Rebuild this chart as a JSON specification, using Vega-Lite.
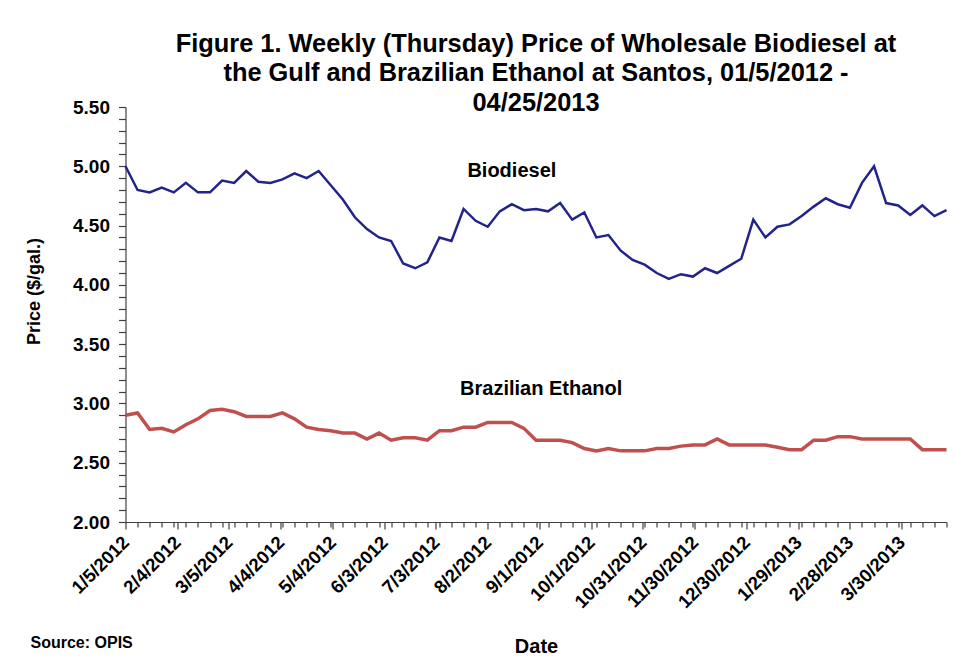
{
  "$schema": "https://vega.github.io/schema/vega-lite/v6.json",
  "padding": {"left": 24.5, "top": 31, "right": 5, "bottom": 2},
  "background": "white",
  "title": {"text": "Source: OPIS", "orient": "bottom", "anchor": "start", "frame": "bounds", "fontSize": 16, "font": "Liberation Sans", "fontWeight": "bold", "color": "#000000", "offset": -21, "dx": 5.5},
  "vconcat": [
    {
      "width": 821,
      "height": 415,
      "title": {
        "text": ["Figure 1. Weekly (Thursday) Price of Wholesale Biodiesel at", "the Gulf and Brazilian Ethanol at Santos, 01/5/2012 -", "04/25/2013"],
        "fontSize": 25.4, "lineHeight": 29.5, "font": "Liberation Sans", "fontWeight": "bold", "color": "#000000", "anchor": "middle", "offset": -18
      },
      "data": {"values": [
        {"date": "2012-01-05", "biodiesel": 5.00, "ethanol": 2.90},
        {"date": "2012-01-12", "biodiesel": 4.80, "ethanol": 2.92},
        {"date": "2012-01-19", "biodiesel": 4.78, "ethanol": 2.78},
        {"date": "2012-01-26", "biodiesel": 4.82, "ethanol": 2.79},
        {"date": "2012-02-02", "biodiesel": 4.78, "ethanol": 2.76},
        {"date": "2012-02-09", "biodiesel": 4.86, "ethanol": 2.82},
        {"date": "2012-02-16", "biodiesel": 4.78, "ethanol": 2.87},
        {"date": "2012-02-23", "biodiesel": 4.78, "ethanol": 2.94},
        {"date": "2012-03-01", "biodiesel": 4.88, "ethanol": 2.95},
        {"date": "2012-03-08", "biodiesel": 4.86, "ethanol": 2.93},
        {"date": "2012-03-15", "biodiesel": 4.96, "ethanol": 2.89},
        {"date": "2012-03-22", "biodiesel": 4.87, "ethanol": 2.89},
        {"date": "2012-03-29", "biodiesel": 4.86, "ethanol": 2.89},
        {"date": "2012-04-05", "biodiesel": 4.89, "ethanol": 2.92},
        {"date": "2012-04-12", "biodiesel": 4.94, "ethanol": 2.87},
        {"date": "2012-04-19", "biodiesel": 4.90, "ethanol": 2.80},
        {"date": "2012-04-26", "biodiesel": 4.96, "ethanol": 2.78},
        {"date": "2012-05-03", "biodiesel": 4.84, "ethanol": 2.77},
        {"date": "2012-05-10", "biodiesel": 4.72, "ethanol": 2.75},
        {"date": "2012-05-17", "biodiesel": 4.57, "ethanol": 2.75},
        {"date": "2012-05-24", "biodiesel": 4.47, "ethanol": 2.70},
        {"date": "2012-05-31", "biodiesel": 4.40, "ethanol": 2.75},
        {"date": "2012-06-07", "biodiesel": 4.37, "ethanol": 2.69},
        {"date": "2012-06-14", "biodiesel": 4.18, "ethanol": 2.71},
        {"date": "2012-06-21", "biodiesel": 4.14, "ethanol": 2.71},
        {"date": "2012-06-28", "biodiesel": 4.19, "ethanol": 2.69},
        {"date": "2012-07-05", "biodiesel": 4.40, "ethanol": 2.77},
        {"date": "2012-07-12", "biodiesel": 4.37, "ethanol": 2.77},
        {"date": "2012-07-19", "biodiesel": 4.64, "ethanol": 2.80},
        {"date": "2012-07-26", "biodiesel": 4.54, "ethanol": 2.80},
        {"date": "2012-08-02", "biodiesel": 4.49, "ethanol": 2.84},
        {"date": "2012-08-09", "biodiesel": 4.62, "ethanol": 2.84},
        {"date": "2012-08-16", "biodiesel": 4.68, "ethanol": 2.84},
        {"date": "2012-08-23", "biodiesel": 4.63, "ethanol": 2.79},
        {"date": "2012-08-30", "biodiesel": 4.64, "ethanol": 2.69},
        {"date": "2012-09-06", "biodiesel": 4.62, "ethanol": 2.69},
        {"date": "2012-09-13", "biodiesel": 4.69, "ethanol": 2.69},
        {"date": "2012-09-20", "biodiesel": 4.55, "ethanol": 2.67},
        {"date": "2012-09-27", "biodiesel": 4.61, "ethanol": 2.62},
        {"date": "2012-10-04", "biodiesel": 4.40, "ethanol": 2.60},
        {"date": "2012-10-11", "biodiesel": 4.42, "ethanol": 2.62},
        {"date": "2012-10-18", "biodiesel": 4.29, "ethanol": 2.60},
        {"date": "2012-10-25", "biodiesel": 4.21, "ethanol": 2.60},
        {"date": "2012-11-01", "biodiesel": 4.17, "ethanol": 2.60},
        {"date": "2012-11-08", "biodiesel": 4.10, "ethanol": 2.62},
        {"date": "2012-11-15", "biodiesel": 4.05, "ethanol": 2.62},
        {"date": "2012-11-22", "biodiesel": 4.09, "ethanol": 2.64},
        {"date": "2012-11-29", "biodiesel": 4.07, "ethanol": 2.65},
        {"date": "2012-12-06", "biodiesel": 4.14, "ethanol": 2.65},
        {"date": "2012-12-13", "biodiesel": 4.10, "ethanol": 2.70},
        {"date": "2012-12-20", "biodiesel": 4.16, "ethanol": 2.65},
        {"date": "2012-12-27", "biodiesel": 4.22, "ethanol": 2.65},
        {"date": "2013-01-03", "biodiesel": 4.55, "ethanol": 2.65},
        {"date": "2013-01-10", "biodiesel": 4.40, "ethanol": 2.65},
        {"date": "2013-01-17", "biodiesel": 4.49, "ethanol": 2.63},
        {"date": "2013-01-24", "biodiesel": 4.51, "ethanol": 2.61},
        {"date": "2013-01-31", "biodiesel": 4.58, "ethanol": 2.61},
        {"date": "2013-02-07", "biodiesel": 4.66, "ethanol": 2.69},
        {"date": "2013-02-14", "biodiesel": 4.73, "ethanol": 2.69},
        {"date": "2013-02-21", "biodiesel": 4.68, "ethanol": 2.72},
        {"date": "2013-02-28", "biodiesel": 4.65, "ethanol": 2.72},
        {"date": "2013-03-07", "biodiesel": 4.86, "ethanol": 2.70},
        {"date": "2013-03-14", "biodiesel": 5.00, "ethanol": 2.70},
        {"date": "2013-03-21", "biodiesel": 4.69, "ethanol": 2.70},
        {"date": "2013-03-28", "biodiesel": 4.67, "ethanol": 2.70},
        {"date": "2013-04-04", "biodiesel": 4.59, "ethanol": 2.70},
        {"date": "2013-04-11", "biodiesel": 4.67, "ethanol": 2.61},
        {"date": "2013-04-18", "biodiesel": 4.58, "ethanol": 2.61},
        {"date": "2013-04-25", "biodiesel": 4.63, "ethanol": 2.61}
      ]},
      "encoding": {
        "x": {
          "field": "date", "type": "temporal",
          "scale": {"type": "utc", "domain": [1325721600000, 1366848000000], "nice": false},
          "axis": {
            "title": "Date",
            "tickCount": 500,
            "values": [1325721600000, 1326326400000, 1326931200000, 1327536000000, 1328140800000, 1328313600000, 1328745600000, 1329350400000, 1329955200000, 1330560000000, 1330905600000, 1331164800000, 1331769600000, 1332374400000, 1332979200000, 1333497600000, 1333584000000, 1334188800000, 1334793600000, 1335398400000, 1336003200000, 1336089600000, 1336608000000, 1337212800000, 1337817600000, 1338422400000, 1338681600000, 1339027200000, 1339632000000, 1340236800000, 1340841600000, 1341273600000, 1341446400000, 1342051200000, 1342656000000, 1343260800000, 1343865600000, 1344470400000, 1345075200000, 1345680000000, 1346284800000, 1346457600000, 1346889600000, 1347494400000, 1348099200000, 1348704000000, 1349049600000, 1349308800000, 1349913600000, 1350518400000, 1351123200000, 1351641600000, 1351728000000, 1352332800000, 1352937600000, 1353542400000, 1354147200000, 1354233600000, 1354752000000, 1355356800000, 1355961600000, 1356566400000, 1356825600000, 1357171200000, 1357776000000, 1358380800000, 1358985600000, 1359417600000, 1359590400000, 1360195200000, 1360800000000, 1361404800000, 1362009600000, 1362614400000, 1363219200000, 1363824000000, 1364428800000, 1364601600000, 1365033600000, 1365638400000, 1366243200000, 1366848000000],
            "labelExpr": "(datum.value - 1325721600000) % 2592000000 == 0 ? utcFormat(datum.value, '%-m/%-d/%Y') : ''",
            "tickSize": {"condition": {"test": "(datum.value - 1325721600000) % 2592000000 == 0", "value": 7}, "value": 5},
            "labelAngle": -45, "labelAlign": "right", "labelBaseline": "middle",
            "labelFontSize": 18.5, "labelFontWeight": "bold", "labelPadding": 10,
            "labelOverlap": false, "labelFlush": false, "labelBound": false,
            "titleFontSize": 20, "titlePadding": 25,
            "grid": false
          }
        }
      },
      "layer": [
        {
          "mark": {"type": "line", "color": "#23238C", "strokeWidth": 2.5},
          "encoding": {
            "y": {
              "field": "biodiesel", "type": "quantitative",
              "scale": {"domain": [2, 5.5], "nice": false, "zero": false},
              "axis": {
                "title": "Price ($/gal.)",
                "tickCount": 500,
                "values": [2.0, 2.1, 2.2, 2.3, 2.4, 2.5, 2.6, 2.7, 2.8, 2.9, 3.0, 3.1, 3.2, 3.3, 3.4, 3.5, 3.6, 3.7, 3.8, 3.9, 4.0, 4.1, 4.2, 4.3, 4.4, 4.5, 4.6, 4.7, 4.8, 4.9, 5.0, 5.1, 5.2, 5.3, 5.4, 5.5],
                "labelExpr": "abs(datum.value * 2 - round(datum.value * 2)) < 0.001 ? format(datum.value, '.2f') : ''",
                "tickSize": 7, "labelPadding": 9,
                "labelFontSize": 19, "labelFontWeight": "bold",
                "labelOverlap": false, "labelFlush": false, "labelBound": false,
                "titleFontSize": 18, "titlePadding": 29.5, "titleY": 184,
                "grid": false
              }
            }
          }
        },
        {
          "mark": {"type": "line", "color": "#C0504D", "strokeWidth": 3.5},
          "encoding": {
            "y": {"field": "ethanol", "type": "quantitative"}
          }
        },
        {
          "data": {"values": [
            {"label": "Biodiesel", "date": "2012-08-16", "price": 4.96},
            {"label": "Brazilian Ethanol", "date": "2012-09-02", "price": 3.12}
          ]},
          "mark": {"type": "text", "fontSize": 20, "fontWeight": "bold", "font": "Liberation Sans", "color": "#000000", "align": "center", "baseline": "middle"},
          "encoding": {
            "y": {"field": "price", "type": "quantitative"},
            "text": {"field": "label"}
          }
        }
      ]
    }
  ],
  "config": {
    "font": "Liberation Sans",
    "view": {"stroke": null},
    "axis": {
      "domainColor": "#404040", "tickColor": "#404040", "domainWidth": 1.2, "tickWidth": 1.2,
      "labelColor": "#000000", "titleColor": "#000000", "labelFont": "Liberation Sans", "titleFont": "Liberation Sans", "titleFontWeight": "bold"
    }
  }
}
